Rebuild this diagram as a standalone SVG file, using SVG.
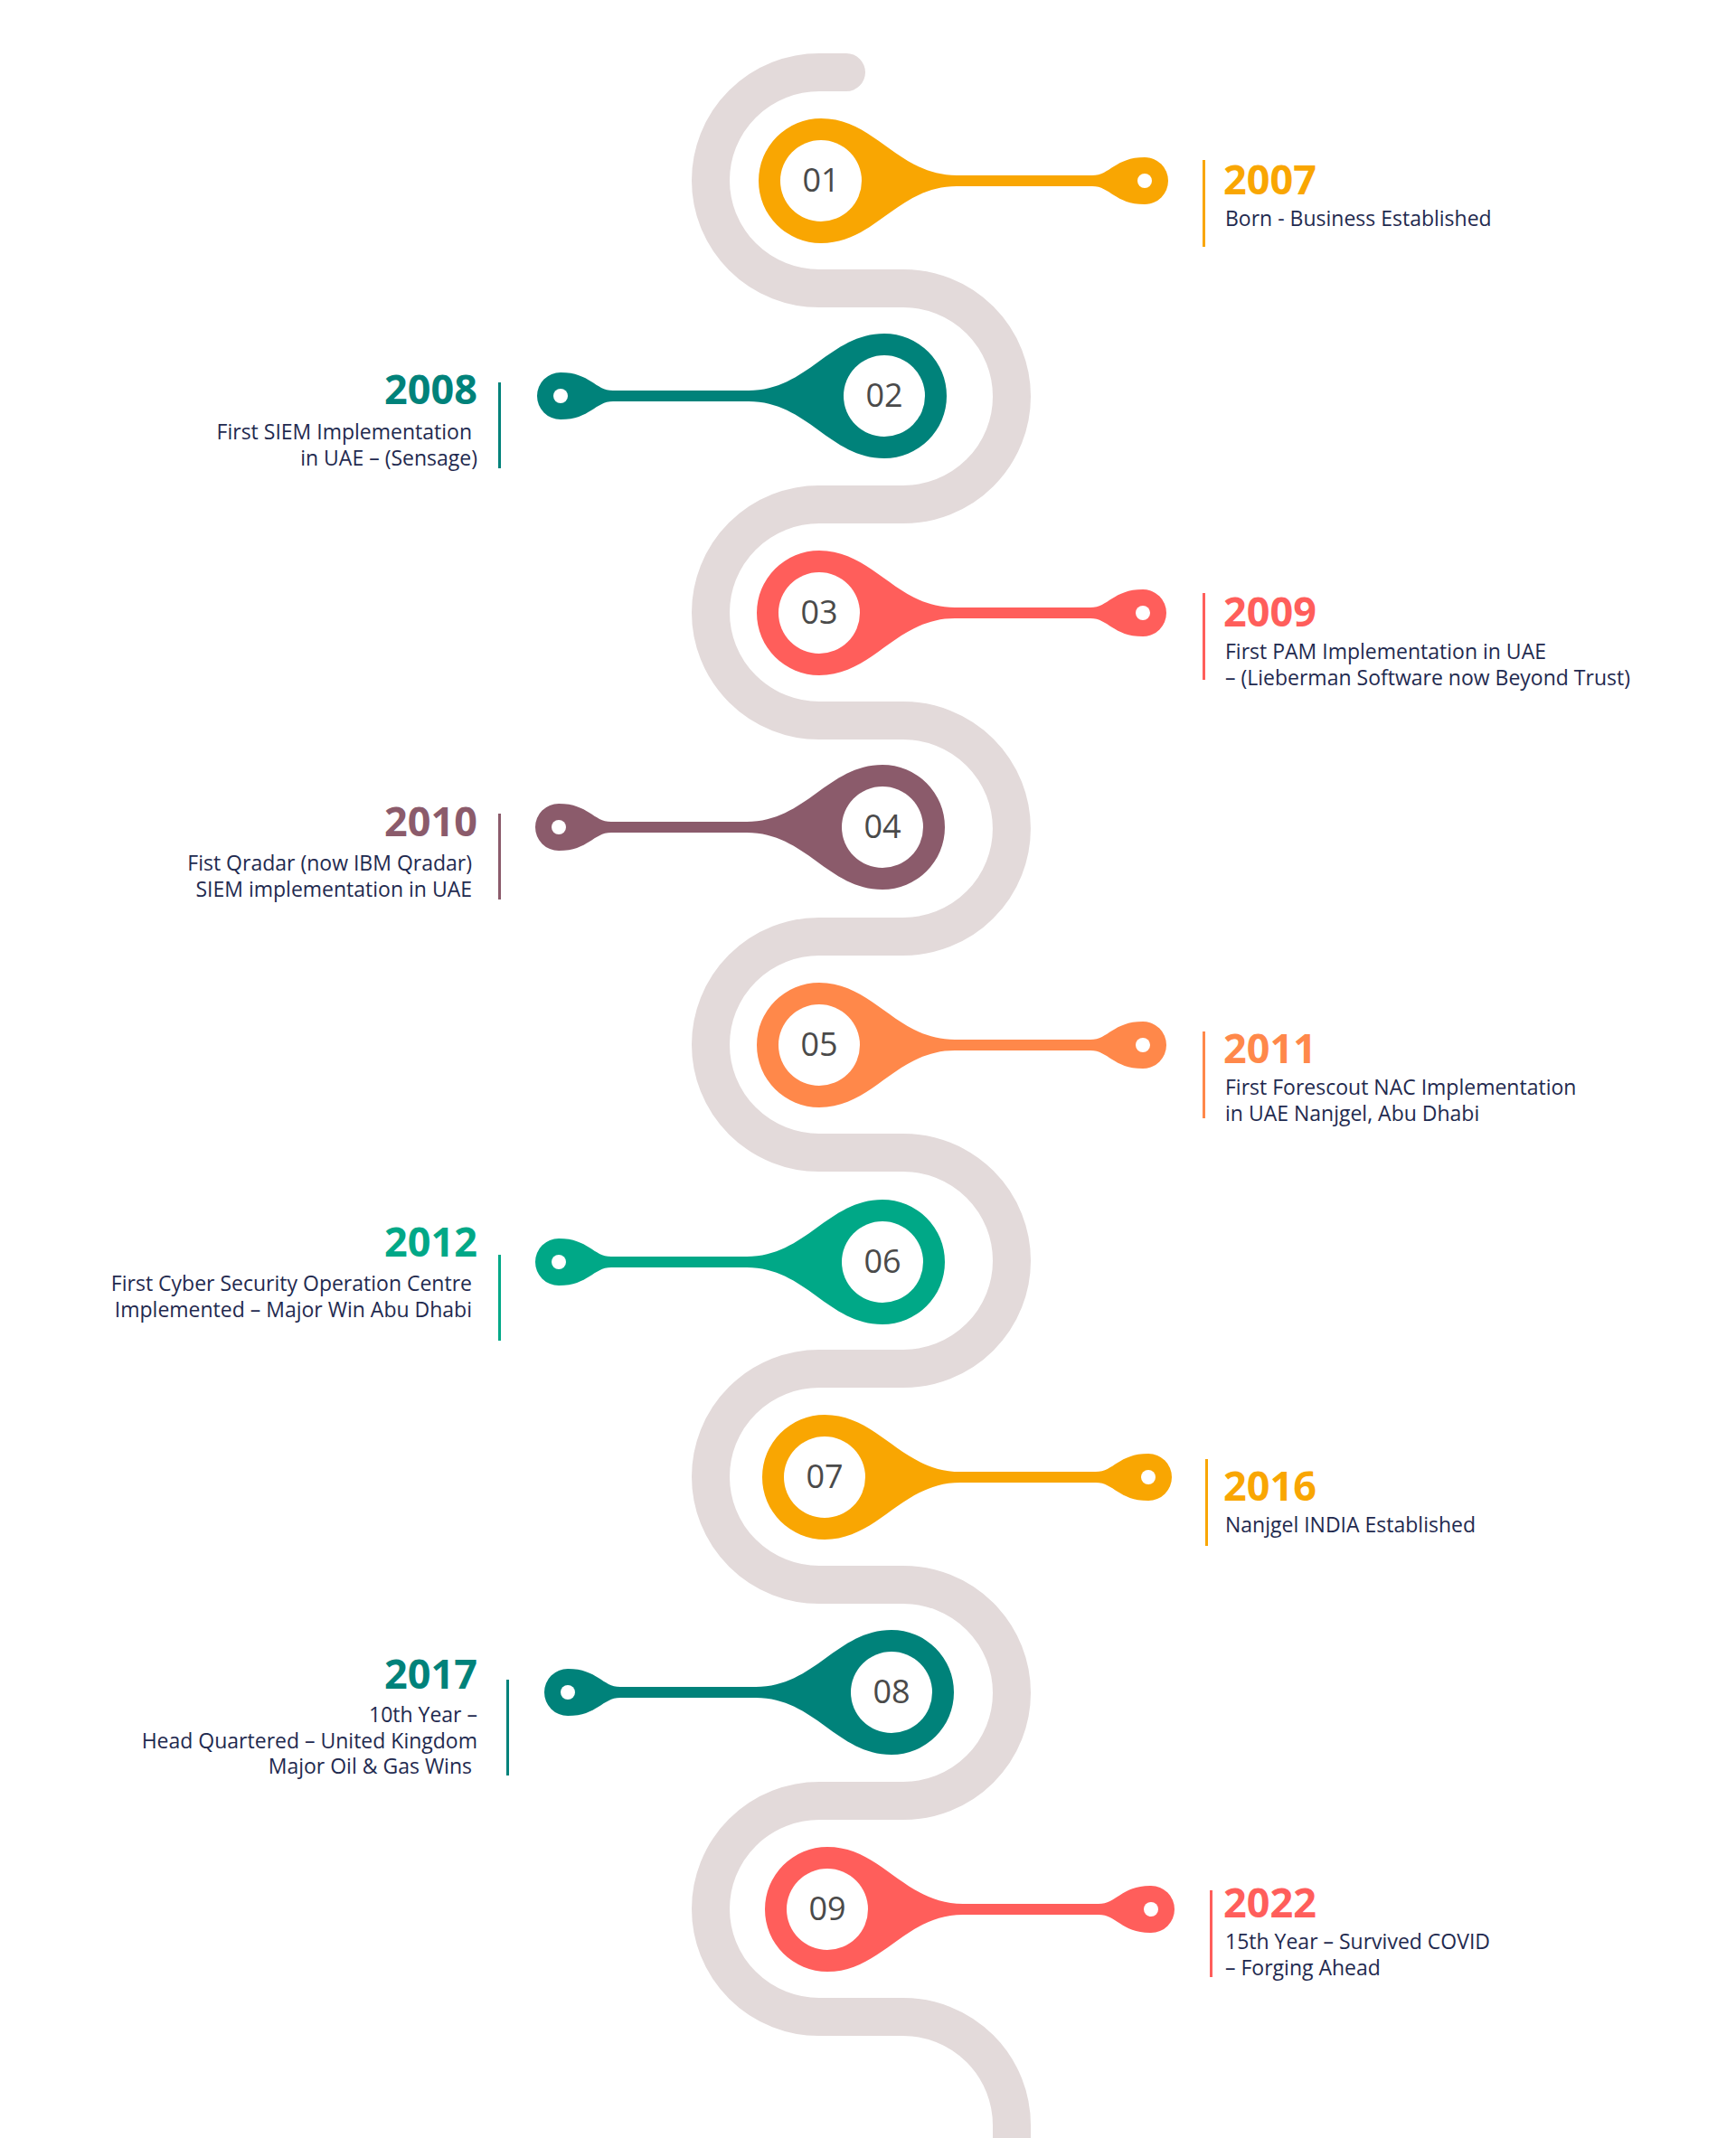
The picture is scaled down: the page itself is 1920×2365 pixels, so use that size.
<svg xmlns="http://www.w3.org/2000/svg" xmlns:xlink="http://www.w3.org/1999/xlink" width="1920" height="2365" viewBox="0 0 1920 2365">
<style>
.num{font-family:"Open Sans","Liberation Sans",sans-serif;font-size:36px;fill:#4a4a4a;text-anchor:middle}
.yr{font-family:"Open Sans","Liberation Sans",sans-serif;font-size:45px;font-weight:700}
.d{font-family:"Open Sans","Liberation Sans",sans-serif;font-size:23px;fill:#1f2a4f}
.l{text-anchor:end}
</style>
<defs>
<g id="pin">
<path d="M 0,-69 C 60,-69 85,-6 150,-6 L 300,-6 C 320,-6 325,-26 358,-26 A 26 26 0 0 1 358,26 C 325,26 320,6 300,6 L 150,6 C 85,6 60,69 0,69 A 69 69 0 0 1 0,-69 Z"/>
<circle r="45" fill="#fff"/>
<circle cx="358" r="8" fill="#fff"/>
</g>
</defs>
<g id="connectors">
<path d="M 936,80 L 906,80 A 120 119.5 0 0 0 906,319 L 999,319 A 120 119.5 0 0 1 999,558 L 906,558 A 120 119.5 0 0 0 906,797 L 999,797 A 120 119.5 0 0 1 999,1036 L 906,1036 A 120 119.5 0 0 0 906,1275 L 999,1275 A 120 119.5 0 0 1 999,1514 L 906,1514 A 120 119.5 0 0 0 906,1753 L 999,1753 A 120 119.5 0 0 1 999,1992 L 906,1992 A 120 119.5 0 0 0 906,2231 L 999,2231 A 120 120 0 0 1 1119,2351 L 1119,2370" fill="none" stroke="#E3DADA" stroke-width="42" stroke-linecap="round"/>
</g>
<g id="n1"><use xlink:href="#pin" transform="translate(908,200)" fill="#F9A602"/><text class="num" x="908" y="212">01</text>
<rect x="1330" y="177" width="3" height="96" fill="#F9A602"/><text class="yr" x="1353" y="215" fill="#F9A602">2007</text><text class="d" x="1355" y="250">Born - Business Established</text></g>
<g id="n2"><use xlink:href="#pin" transform="translate(978,438) scale(-1,1)" fill="#00827A"/><text class="num" x="978" y="450">02</text>
<rect x="551" y="423" width="3" height="95" fill="#00827A"/><text class="yr l" x="528" y="447" fill="#00827A">2008</text><text class="d l" x="522" y="486">First SIEM Implementation</text><text class="d l" x="528" y="515">in UAE – (Sensage)</text></g>
<g id="n3"><use xlink:href="#pin" transform="translate(906,678)" fill="#FF5E5B"/><text class="num" x="906" y="690">03</text>
<rect x="1330" y="656" width="3" height="96" fill="#FF5E5B"/><text class="yr" x="1353" y="693" fill="#FF5E5B">2009</text><text class="d" x="1355" y="729">First PAM Implementation in UAE</text><text class="d" x="1355" y="758">– (Lieberman Software now Beyond Trust)</text></g>
<g id="n4"><use xlink:href="#pin" transform="translate(976,915) scale(-1,1)" fill="#8B5B6B"/><text class="num" x="976" y="927">04</text>
<rect x="551" y="900" width="3" height="95" fill="#8B5B6B"/><text class="yr l" x="528" y="925" fill="#8B5B6B">2010</text><text class="d l" x="522" y="963">Fist Qradar (now IBM Qradar)</text><text class="d l" x="522" y="992">SIEM implementation in UAE</text></g>
<g id="n5"><use xlink:href="#pin" transform="translate(906,1156)" fill="#FF884A"/><text class="num" x="906" y="1168">05</text>
<rect x="1330" y="1141" width="3" height="96" fill="#FF884A"/><text class="yr" x="1353" y="1176" fill="#FF884A">2011</text><text class="d" x="1355" y="1211">First Forescout NAC Implementation</text><text class="d" x="1355" y="1240">in UAE Nanjgel, Abu Dhabi</text></g>
<g id="n6"><use xlink:href="#pin" transform="translate(976,1396) scale(-1,1)" fill="#00A887"/><text class="num" x="976" y="1408">06</text>
<rect x="551" y="1388" width="3" height="95" fill="#00A887"/><text class="yr l" x="528" y="1390" fill="#00A887">2012</text><text class="d l" x="522" y="1428">First Cyber Security Operation Centre</text><text class="d l" x="522" y="1457">Implemented – Major Win Abu Dhabi</text></g>
<g id="n7"><use xlink:href="#pin" transform="translate(912,1634)" fill="#F9A602"/><text class="num" x="912" y="1646">07</text>
<rect x="1333" y="1614" width="3" height="96" fill="#F9A602"/><text class="yr" x="1353" y="1660" fill="#F9A602">2016</text><text class="d" x="1355" y="1695">Nanjgel INDIA Established</text></g>
<g id="n8"><use xlink:href="#pin" transform="translate(986,1872) scale(-1,1)" fill="#00827A"/><text class="num" x="986" y="1884">08</text>
<rect x="560" y="1858" width="3" height="106" fill="#00827A"/><text class="yr l" x="528" y="1868" fill="#00827A">2017</text><text class="d l" x="528" y="1905">10th Year –</text><text class="d l" x="528" y="1934">Head Quartered – United Kingdom</text><text class="d l" x="522" y="1962">Major Oil &amp; Gas Wins</text></g>
<g id="n9"><use xlink:href="#pin" transform="translate(915,2112)" fill="#FF5E5B"/><text class="num" x="915" y="2124">09</text>
<rect x="1338" y="2091" width="3" height="96" fill="#FF5E5B"/><text class="yr" x="1353" y="2121" fill="#FF5E5B">2022</text><text class="d" x="1355" y="2156">15th Year – Survived COVID</text><text class="d" x="1355" y="2185">– Forging Ahead</text></g>
</svg>
